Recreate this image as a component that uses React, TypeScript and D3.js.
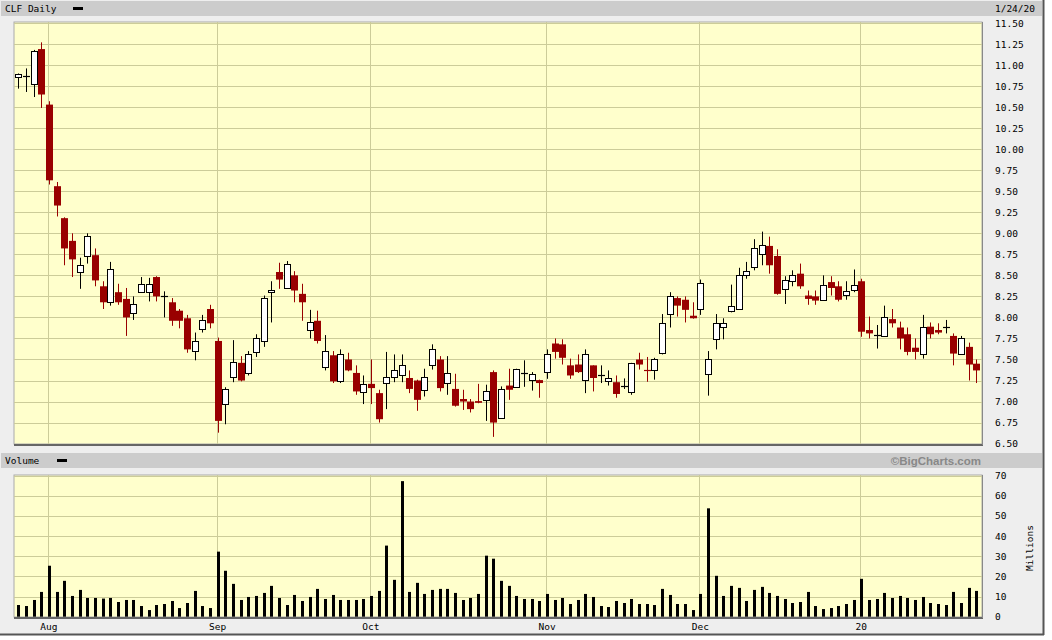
import React from 'react';
import * as d3 from 'd3';

// CLF daily OHLC, Jul 26 2019 - Jan 24 2020
const opens = [
  10.85, 10.86, 10.78, 11.19, 10.53, 9.56, 9.18, 8.91, 8.54, 8.73, 8.74, 8.37, 8.18, 8.3, 8.22, 8.05, 8.31, 8.31, 8.48, 8.25,
  8.18, 8.08, 7.99, 7.6, 7.86, 8.1, 7.72, 6.97, 7.29, 7.46, 7.34, 7.59, 7.72, 8.31, 8.54, 8.35, 8.5, 8.28, 7.85, 7.96,
  7.41, 7.55, 7.25, 7.5, 7.34, 7.12, 7.21, 7.1, 7.22, 7.29, 7.31, 7.28, 7.25, 7.13, 7.43, 7.5, 7.22, 7.15, 7.03, 7.0,
  7.005, 7.02, 7.35, 6.81, 7.19, 7.175, 7.33, 7.26, 7.255, 7.35, 7.69, 7.68, 7.43, 7.44, 7.25, 7.43, 7.3, 7.24, 7.23, 7.17,
  7.12, 7.5, 7.37, 7.37, 7.57, 8.04, 8.23, 8.21, 8.02, 8.1, 7.32, 7.74, 7.88, 8.07, 8.1, 8.5, 8.6, 8.75, 8.85, 8.73,
  8.33, 8.43, 8.52, 8.26, 8.25, 8.21, 8.42, 8.37, 8.275, 8.33, 8.43, 7.85, 7.78, 7.78, 7.98, 7.88, 7.8, 7.64, 7.57, 7.89,
  7.85, 7.88, 7.78, 7.56, 7.65, 7.45,
];
const highs = [
  10.9, 10.96, 11.18, 11.27, 10.57, 9.61, 9.19, 9.0, 8.71, 9.0, 8.82, 8.43, 8.66, 8.4, 8.35, 8.25, 8.48, 8.47, 8.49, 8.31,
  8.23, 8.1, 8.03, 7.82, 8.03, 8.15, 7.76, 7.17, 7.73, 7.54, 7.6, 7.8, 8.26, 8.43, 8.65, 8.67, 8.55, 8.4, 8.09, 8.08,
  7.79, 7.6, 7.62, 7.58, 7.43, 7.31, 7.5, 7.14, 7.59, 7.56, 7.56, 7.37, 7.26, 7.39, 7.68, 7.54, 7.54, 7.33, 7.14, 7.03,
  7.21, 7.2, 7.37, 7.18, 7.39, 7.39, 7.49, 7.35, 7.26, 7.62, 7.75, 7.74, 7.51, 7.56, 7.62, 7.43, 7.43, 7.37, 7.31, 7.275,
  7.46, 7.58, 7.53, 7.52, 8.04, 8.3, 8.25, 8.25, 8.18, 8.45, 7.6, 8.04, 7.99, 8.39, 8.59, 8.66, 8.93, 9.02, 8.96, 8.81,
  8.49, 8.56, 8.64, 8.32, 8.32, 8.5, 8.49, 8.43, 8.43, 8.57, 8.46, 8.01, 7.91, 8.14, 8.1, 7.95, 7.88, 7.75, 8.03, 7.94,
  7.93, 7.97, 7.81, 7.78, 7.7, 7.5,
];
const lows = [
  10.72, 10.68, 10.62, 10.49, 9.58, 9.2, 8.62, 8.48, 8.34, 8.64, 8.37, 8.1, 8.14, 8.15, 7.78, 7.97, 8.29, 8.19, 8.19, 8.0,
  7.9, 7.87, 7.58, 7.49, 7.82, 7.87, 6.63, 6.73, 7.23, 7.24, 7.31, 7.53, 7.65, 7.94, 8.34, 8.34, 8.18, 7.96, 7.75, 7.69,
  7.37, 7.22, 7.22, 7.36, 7.08, 6.97, 6.97, 6.75, 6.91, 7.23, 7.23, 7.1, 6.89, 7.06, 7.38, 7.12, 7.08, 6.94, 6.9, 6.87,
  6.98, 6.77, 6.58, 6.81, 7.02, 7.17, 7.175, 7.13, 7.045, 7.27, 7.51, 7.44, 7.27, 7.34, 7.1, 7.12, 7.22, 7.19, 7.045, 7.15,
  7.08, 7.38, 7.235, 7.26, 7.56, 7.88, 8.01, 7.94, 7.985, 8.03, 7.07, 7.62, 7.74, 8.06, 8.09, 8.46, 8.56, 8.62, 8.52, 8.27,
  8.16, 8.37, 8.34, 8.15, 8.15, 8.2, 8.26, 8.19, 8.21, 8.3, 7.77, 7.75, 7.63, 7.77, 7.88, 7.62, 7.55, 7.5, 7.51, 7.75,
  7.8, 7.81, 7.43, 7.56, 7.25, 7.22,
];
const closes = [
  10.89, 10.87, 11.17, 10.65, 9.63, 9.33, 8.82, 8.69, 8.62, 8.97, 8.44, 8.18, 8.57, 8.18, 8.0, 8.16, 8.4, 8.4, 8.25, 8.26,
  7.96, 7.96, 7.62, 7.72, 7.97, 7.93, 6.77, 7.15, 7.47, 7.25, 7.57, 7.76, 8.23, 8.33, 8.45, 8.63, 8.32, 8.18, 7.95, 7.72,
  7.6, 7.24, 7.57, 7.37, 7.12, 7.21, 7.16, 6.79, 7.29, 7.37, 7.43, 7.15, 7.02, 7.29, 7.62, 7.16, 7.34, 6.95, 7.0, 6.91,
  6.985, 7.13, 6.75, 7.15, 7.14, 7.39, 7.335, 7.33, 7.22, 7.56, 7.59, 7.52, 7.31, 7.35, 7.56, 7.28, 7.31, 7.275, 7.09, 7.18,
  7.46, 7.44, 7.355, 7.5, 7.93, 8.25, 8.14, 8.09, 7.99, 8.41, 7.5, 7.93, 7.93, 8.13, 8.5, 8.55, 8.82, 8.86, 8.62, 8.28,
  8.44, 8.5, 8.37, 8.22, 8.2, 8.39, 8.35, 8.21, 8.32, 8.39, 7.83, 7.81, 7.79, 8.0, 7.93, 7.75, 7.59, 7.59, 7.89, 7.8,
  7.82, 7.885, 7.57, 7.75, 7.44, 7.37,
];
// volume, millions
const volumes = [
  5.8, 5.3, 8.3, 12.3, 25.3, 12.3, 17.8, 10.3, 13.3, 9.3, 9.3, 9.0, 9.3, 7.3, 8.3, 8.3, 5.3, 3.3, 5.8, 6.3,
  7.8, 4.3, 6.8, 12.8, 5.3, 4.3, 32.3, 22.8, 16.3, 8.3, 9.8, 10.3, 11.8, 15.3, 9.3, 5.8, 10.8, 7.8, 9.8, 13.8,
  8.8, 10.8, 8.3, 8.3, 8.3, 8.8, 10.3, 12.8, 35.3, 18.3, 67.3, 12.3, 16.8, 11.3, 13.3, 13.8, 13.8, 11.8, 8.3, 9.3,
  11.3, 30.3, 28.8, 17.8, 15.3, 10.3, 8.8, 8.8, 7.8, 11.3, 8.3, 9.3, 6.3, 8.3, 11.3, 9.8, 5.3, 4.8, 7.8, 6.8,
  8.8, 6.3, 6.3, 5.8, 13.8, 10.8, 6.3, 6.3, 3.3, 11.3, 53.8, 20.3, 10.3, 15.3, 14.3, 7.8, 13.3, 14.8, 11.8, 10.3,
  8.8, 6.8, 7.3, 12.3, 5.3, 3.8, 4.3, 5.3, 6.3, 8.3, 18.8, 8.3, 8.8, 11.8, 9.3, 10.3, 9.3, 8.3, 9.8, 6.8,
  6.3, 5.8, 12.3, 6.8, 14.3, 12.8,
];

const monthIdx = [4, 26, 46, 69, 89, 110];
const monthLabels = ['Aug', 'Sep', 'Oct', 'Nov', 'Dec', '20'];
const priceTicks = d3.range(6.5, 11.51, 0.25);
const volTicks = [0, 10, 20, 30, 40, 50, 60, 70];

const RED = '#990000';
const GRID = '#cccc99';
const PANEL = '#ffffcc';
const FONT = '"DejaVu Sans Mono", monospace';

const App = () => {
  const W = 1044;
  const H = 635;
  const left = 14;
  const right = 982;

  const x = d3.scaleLinear().domain([0, opens.length - 1]).range([18.3, 976.3]);
  const y = d3.scaleLinear().domain([6.5, 11.5]).range([443.6, 23]);
  const yv = d3.scaleLinear().domain([0, 70]).range([616.7, 475.7]);

  const bodyW = 7;
  const volW = 3;

  return (
    <svg width={1052} height={640} style={{ position: 'absolute', left: 0, top: 0 }}>
      <rect x={0} y={0} width={1052} height={640} fill="#ffffff" />
      <rect x={0} y={0} width={W} height={H} fill="#eeeeee" />
      <line x1={W - 0.5} y1={0} x2={W - 0.5} y2={H} stroke="#555" strokeWidth={2} />
      <line x1={0} y1={H - 0.5} x2={W} y2={H - 0.5} stroke="#555" strokeWidth={2} />

      {/* header */}
      <rect x={1} y={1} width={W - 3} height={15} fill="#cccccc" />
      <text x={5} y={12} fontFamily={FONT} fontSize={9.5} fill="#000">CLF Daily</text>
      <rect x={73} y={7} width={10} height={3} fill="#000" />
      <text x={1035} y={12} fontFamily={FONT} fontSize={9.5} textAnchor="end" fill="#000">1/24/20</text>

      {/* price panel */}
      <rect x={left} y={22} width={right - left} height={422} fill={PANEL} stroke="#aaaaaa" />
      {priceTicks.map((p) => (
        <line key={p} x1={left} x2={right} y1={Math.round(y(p)) + 0.5} y2={Math.round(y(p)) + 0.5} stroke={GRID} />
      ))}
      {monthIdx.map((i) => (
        <line key={i} x1={Math.round(x(i) - 1) + 0.5} x2={Math.round(x(i) - 1) + 0.5} y1={22} y2={444} stroke={GRID} />
      ))}
      <line x1={left} x2={right + 1} y1={445} y2={445} stroke="#666" strokeWidth={2} />
      <line x1={right + 0.5} x2={right + 0.5} y1={22} y2={445} stroke="#888" strokeWidth={1} />

      {opens.map((o, i) => {
        const c = closes[i];
        const up = c >= o;
        const cx = Math.round(x(i)) + 0.5;
        const col = up ? '#000' : RED;
        const top = y(Math.max(o, c));
        const bot = y(Math.min(o, c));
        const h = bot - top;
        return (
          <g key={i}>
            <line x1={cx} x2={cx} y1={y(highs[i])} y2={y(lows[i])} stroke={col} strokeWidth={1} />
            {h < 1.5 ? (
              <line x1={cx - bodyW / 2} x2={cx + bodyW / 2} y1={Math.round(top) + 0.5} y2={Math.round(top) + 0.5} stroke={col} strokeWidth={1.2} />
            ) : up ? (
              <rect x={cx - 3} y={Math.round(top) + 0.5} width={6} height={Math.round(h)} fill="#fff" stroke="#000" strokeWidth={1} />
            ) : (
              <rect x={cx - bodyW / 2} y={top} width={bodyW} height={h} fill={RED} />
            )}
          </g>
        );
      })}

      {priceTicks.map((p) => (
        <text key={p} x={995} y={y(p) + 3.5} fontFamily={FONT} fontSize={9.5} fill="#000">{p.toFixed(2)}</text>
      ))}

      {/* volume header */}
      <rect x={1} y={453} width={W - 3} height={15} fill="#cccccc" />
      <text x={5} y={464} fontFamily={FONT} fontSize={9.5} fill="#000">Volume</text>
      <rect x={57} y={459} width={10} height={3} fill="#000" />
      <text x={981} y={465} fontFamily='"Liberation Sans", Arial, sans-serif' fontWeight="bold" fontSize={11.5} textAnchor="end" fill="#888">©BigCharts.com</text>

      {/* volume panel */}
      <rect x={left} y={475} width={right - left} height={142} fill={PANEL} stroke="#aaaaaa" />
      {volTicks.map((v) => (
        <line key={v} x1={left} x2={right} y1={Math.round(yv(v)) + 0.5} y2={Math.round(yv(v)) + 0.5} stroke={GRID} />
      ))}
      {monthIdx.map((i) => (
        <line key={i} x1={Math.round(x(i) - 1) + 0.5} x2={Math.round(x(i) - 1) + 0.5} y1={475} y2={617} stroke={GRID} />
      ))}
      {volumes.map((v, i) => (
        <rect key={i} x={Math.round(x(i)) - 1} y={yv(v)} width={volW} height={yv(0) - yv(v)} fill="#000" />
      ))}
      <line x1={left} x2={right + 1} y1={618} y2={618} stroke="#666" strokeWidth={2} />
      <line x1={right + 0.5} x2={right + 0.5} y1={475} y2={618} stroke="#888" strokeWidth={1} />

      {volTicks.map((v) => (
        <text key={v} x={995} y={yv(v) + 3.5} fontFamily={FONT} fontSize={9.5} fill="#000">{v}</text>
      ))}
      <text
        transform="translate(1033,548) rotate(-90)"
        fontFamily={FONT}
        fontSize={9.5}
        textAnchor="middle"
        fill="#000"
      >
        Millions
      </text>

      {monthIdx.map((i, k) => (
        <text key={i} x={x(i)} y={630} fontFamily={FONT} fontSize={9.5} textAnchor="middle" fill="#000">
          {monthLabels[k]}
        </text>
      ))}
    </svg>
  );
};

export default App;
